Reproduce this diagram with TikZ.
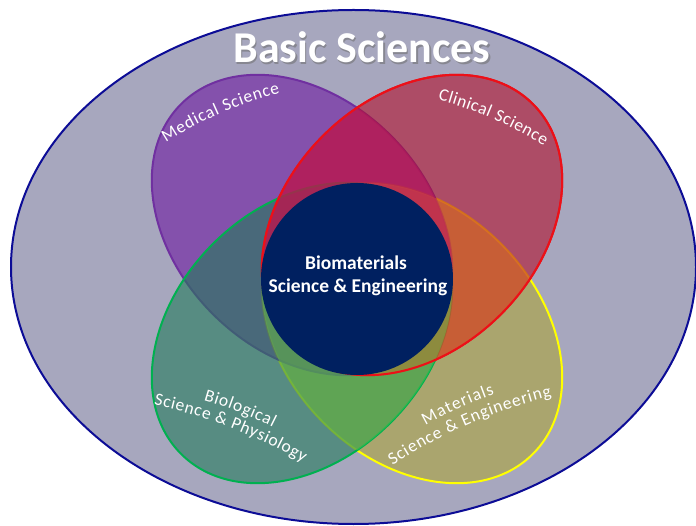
\documentclass[tikz,border=0pt]{standalone}
\usepackage{fontspec}
\setmainfont{Carlito}
\usetikzlibrary{decorations.text}
\definecolor{bgfill}{RGB}{167,167,190}
\definecolor{bigedge}{RGB}{12,12,150}
\definecolor{navy}{RGB}{0,32,96}
\definecolor{purplefill}{RGB}{109,25,160}
\definecolor{purpleedge}{RGB}{112,48,160}
\definecolor{redfill}{RGB}{178,16,44}
\definecolor{rededge}{RGB}{236,16,24}
\definecolor{greenfill}{RGB}{35,122,90}
\definecolor{greenedge}{RGB}{0,176,80}
\definecolor{yellowfill}{RGB}{172,165,57}
\definecolor{yellowedge}{RGB}{255,255,0}
\definecolor{tintorange}{RGB}{225,114,40}
\definecolor{tintmagenta}{RGB}{192,26,95}
\definecolor{tintgreen}{RGB}{101,190,72}
\begin{document}
\begin{tikzpicture}[x=1pt,y=1pt,
  petal/.style={line width=2pt, fill opacity=0.6},
  tint/.style={fill opacity=0.5},
  yellowpos/.style={rotate around={-45:(412,-333)}},
  purplepos/.style={rotate around={-45:(302,-225)}},
  greenpos/.style={rotate around={45:(302,-333)}},
  redpos/.style={rotate around={45:(412,-225)}},
  centrelbl/.style={text=white, font=\bfseries\fontsize{19.5}{22}\selectfont, inner sep=0pt, anchor=base},
  titlelbl/.style={font=\bfseries\fontsize{44}{50}\selectfont, inner sep=0pt, anchor=base},
  arched/.style={decorate, decoration={text along path, text align={fit to path},
     text={|\fontsize{17.5}{20}\selectfont\color{white}|#1}}}]
\useasboundingbox (0,0) rectangle (696,-526);
\fill[white] (0,0) rectangle (696,-526);

% outer field: basic sciences
\draw[fill=bgfill, draw=bigedge, line width=2pt]
  (353.5,-267) ellipse[x radius=342.5pt, y radius=257pt];

% the four overlapping disciplines
\draw[petal, fill=yellowfill, draw=yellowedge, yellowpos]
  (412,-333) ellipse[x radius=171pt, y radius=126pt];
\draw[petal, fill=purplefill, draw=purpleedge, purplepos]
  (302,-225) ellipse[x radius=171pt, y radius=126pt];
\draw[petal, fill=greenfill, draw=greenedge, greenpos]
  (302,-333) ellipse[x radius=171pt, y radius=126pt];
\draw[petal, fill=redfill, draw=rededge, redpos]
  (412,-225) ellipse[x radius=171pt, y radius=126pt];

% stronger tints where two disciplines meet
\begin{scope}
  \clip[redpos] (412,-225) ellipse[x radius=171pt, y radius=126pt];
  \fill[tint, tintorange, yellowpos] (412,-333) ellipse[x radius=171pt, y radius=126pt];
  \fill[tint, tintmagenta, purplepos] (302,-225) ellipse[x radius=171pt, y radius=126pt];
\end{scope}
\begin{scope}
  \clip[greenpos] (302,-333) ellipse[x radius=171pt, y radius=126pt];
  \fill[tint, tintgreen, yellowpos] (412,-333) ellipse[x radius=171pt, y radius=126pt];
\end{scope}
\draw[line width=2pt, draw=rededge, redpos]
  (412,-225) ellipse[x radius=171pt, y radius=126pt];

% core
\fill[navy] (357,-279) circle[radius=96pt];

% title
\node[titlelbl, text=black!55, opacity=0.6] (titleshadow) at (363.2,-64.2) {Basic Sciences};
\node[titlelbl, text=white] (title) at (362,-63) {Basic Sciences};

% core labels
\node[centrelbl] (core1) at (356,-270) {Biomaterials};
\node[centrelbl] (core2) at (358,-293) {Science \& Engineering};

% discipline labels, set on shallow arches
\begin{scope}[shift={(221.1,-113.2)}, rotate=23.6]
  \path[arched={Medical Science}] ([shift={(98.95:400)}]0,-400) arc[start angle=98.95, end angle=81.05, radius=400];
\end{scope}
\begin{scope}[shift={(492.6,-118.8)}, rotate=-23.4]
  \path[arched={Clinical Science}] ([shift={(98.31:400)}]0,-400) arc[start angle=98.31, end angle=81.69, radius=400];
\end{scope}
\begin{scope}[shift={(238.9,-412.2)}, rotate=-21.3]
  \path[arched={Biological}] ([shift={(95.34:400)}]0,-400) arc[start angle=95.34, end angle=84.66, radius=400];
\end{scope}
\begin{scope}[shift={(230.9,-427.8)}, rotate=-21.1]
  \path[arched={Science {\&} Physiology}] ([shift={(99.22:500)}]0,-500) arc[start angle=99.22, end angle=80.78, radius=500];
\end{scope}
\begin{scope}[shift={(459.3,-408.4)}, rotate=24.2]
  \path[arched={Materials}] ([shift={(95.44:400)}]0,-400) arc[start angle=95.44, end angle=84.56, radius=400];
\end{scope}
\begin{scope}[shift={(469.1,-424)}, rotate=23.5]
  \path[arched={Science {\&} Engineering}] ([shift={(100:500)}]0,-500) arc[start angle=100, end angle=80, radius=500];
\end{scope}
\end{tikzpicture}
\end{document}
